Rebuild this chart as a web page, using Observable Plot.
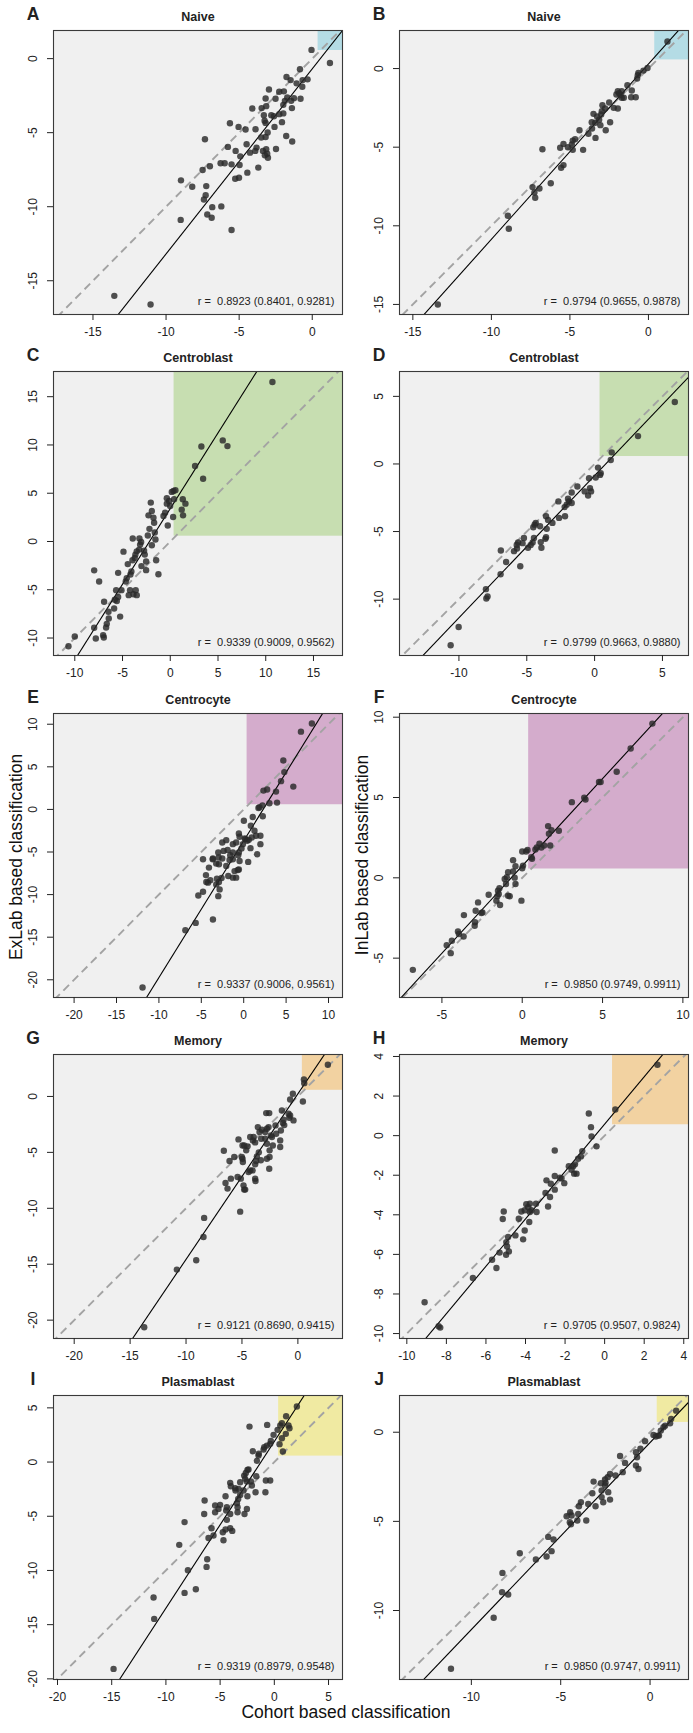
<!DOCTYPE html>
<html><head><meta charset="utf-8">
<script src="https://cdn.jsdelivr.net/npm/d3@7"></script>
<script src="https://cdn.jsdelivr.net/npm/@observablehq/plot@0.6"></script>
<style>
body{margin:0;background:#fff;font-family:"Liberation Sans",Arial,sans-serif;}
#fig{position:relative;width:693px;height:1733px;overflow:hidden;background:#fff;}
.panel{position:absolute;}
.ytitle{position:absolute;font-size:17.5px;white-space:nowrap;transform:translate(-50%,-50%) rotate(-90deg);color:#111;}
.xtitle{position:absolute;font-size:17.5px;white-space:nowrap;transform:translate(-50%,-50%);color:#111;}
</style></head><body><div id="fig"></div><script>
// ---------- data ----------
const panelLetters = ["A","B","C","D","E","F","G","H","I","J"];
const cellTypes = ["Naive","Naive","Centroblast","Centroblast","Centrocyte","Centrocyte","Memory","Memory","Plasmablast","Plasmablast"];
const yAxisTitles = ["ExLab based classification","InLab based classification"];
const xAxisTitle = "Cohort based classification";
const rValues = [0.8923,0.9794,0.9339,0.9799,0.9337,0.9850,0.9121,0.9705,0.9319,0.9850];
const ciLower = [0.8401,0.9655,0.9009,0.9663,0.9006,0.9749,0.8690,0.9507,0.8979,0.9747];
const ciUpper = [0.9281,0.9878,0.9562,0.9880,0.9561,0.9911,0.9415,0.9824,0.9548,0.9911];
const fitSlopes = [1.25,1.115,1.567,1.052,1.606,1.087,1.48,1.197,1.538,1.049];
const fitIntercepts = [-0.69,0.29,3.41,-0.86,-3.68,0.74,0.23,0.58,1.90,-0.58];
const cutoffX = 0.4, cutoffY = 0.55;
const xRanges = [[-17.7,2.07],[-15.85,2.55],[-12.23,18.04],[-14.38,6.92],[-22.43,11.65],[-7.64,10.35],[-21.85,3.99],[-10.37,4.24],[-20.37,6.29],[-14.02,2.15]];
const yRanges = [[-17.28,1.9],[-15.64,2.42],[-11.81,17.61],[-14.17,6.84],[-22.08,11.26],[-7.45,10.23],[-21.64,3.75],[-10.25,4.10],[-20.06,6.14],[-13.87,2.06]];
const tickValues = [[-15,-10,-5,0],[-15,-10,-5,0],[-10,-5,0,5,10,15],[-10,-5,0,5],[-20,-15,-10,-5,0,5,10],[-5,0,5,10],[-20,-15,-10,-5,0],[-10,-8,-6,-4,-2,0,2,4],[-20,-15,-10,-5,0,5],[-10,-5,0]];

const naiveExX = [-0.05,1.21,-0.84,-0.32,-0.66,-1.76,-1.48,-1.07,-0.68,-0.80,-1.25,-1.44,-1.71,-1.94,-2.26,-2.96,-2.51,-1.87,-1.98,-3.19,-4.10,-3.46,-3.15,-1.39,-2.26,-3.31,-2.80,-3.26,-3.19,-2.07,-1.98,-2.62,-3.88,-4.56,-3.49,-3.19,-3.05,-1.78,-1.37,-5.63,-5.04,-7.34,-5.77,-4.49,-3.81,-3.37,-3.15,-4.26,-3.90,-3.24,-3.03,-3.08,-2.48,-3.69,-4.92,-5.24,-4.44,-5.01,-5.52,-4.97,-5.99,-6.27,-7.50,-7.00,-5.27,-8.98,-8.21,-7.25,-7.29,-7.41,-6.22,-6.84,-7.18,-6.88,-9.00,-5.52,-13.54,-11.06,-2.58];
const naiveExY = [0.59,-0.29,-0.72,-1.40,-1.45,-1.24,-1.45,-1.67,-1.90,-2.71,-2.67,-2.85,-2.62,-2.21,-2.24,-2.08,-2.71,-2.85,-3.12,-2.69,-3.37,-3.34,-3.21,-3.34,-3.75,-3.82,-3.82,-4.20,-4.34,-4.29,-3.70,-3.89,-4.77,-4.79,-5.33,-5.29,-4.99,-5.22,-5.60,-4.36,-4.61,-5.44,-5.96,-5.78,-6.01,-6.23,-6.12,-6.35,-6.23,-6.53,-6.69,-6.42,-6.10,-7.36,-6.60,-6.23,-7.70,-8.04,-7.14,-7.18,-7.07,-7.07,-7.52,-7.27,-8.11,-8.22,-8.65,-8.61,-9.22,-9.51,-9.98,-10.03,-10.53,-10.75,-10.89,-11.57,-16.02,-16.60,-4.61];
const naiveInX = [1.21,-0.06,-0.32,-0.64,-0.68,-0.72,-1.34,-1.95,-1.87,-1.78,-1.70,-2.04,-1.70,-1.57,-1.06,-1.10,-0.81,-1.95,-2.21,-2.50,-2.76,-2.93,-2.97,-3.01,-3.50,-3.27,-3.14,-3.39,-3.06,-3.61,-2.44,-2.72,-3.59,-3.82,-4.39,-3.37,-4.16,-4.67,-4.82,-5.41,-4.88,-5.13,-5.62,-4.82,-6.75,-5.41,-5.56,-6.22,-7.38,-7.26,-7.21,-6.94,-8.95,-8.89,-13.41];
const naiveInY = [1.72,0.04,-0.13,-0.28,-0.42,-0.64,-1.06,-1.44,-1.57,-1.69,-1.44,-1.65,-1.86,-1.86,-1.40,-1.82,-1.82,-2.54,-2.50,-2.16,-2.54,-2.33,-2.71,-2.92,-2.88,-3.05,-3.26,-3.45,-3.60,-3.41,-3.41,-3.92,-3.81,-4.15,-3.92,-4.41,-5.17,-4.49,-4.58,-4.79,-4.83,-5.00,-5.04,-5.17,-5.13,-6.14,-6.31,-7.29,-7.54,-7.88,-8.22,-7.63,-9.36,-10.19,-15.0];
const cbExX = [10.70,5.50,5.99,3.26,2.60,3.44,0.34,0.16,0.54,-0.36,-0.12,0.40,1.31,1.59,1.20,1.34,0.30,-0.26,-0.71,-0.54,-0.01,-0.36,-2.04,-1.93,-2.28,-1.76,-1.69,-1.62,-1.55,-2.18,-1.93,-2.35,-3.05,-3.16,-3.26,-2.74,-2.67,-3.51,-3.65,-3.93,-3.23,-3.72,-3.96,-4.45,-2.53,-3.02,-2.53,-1.48,-1.24,-4.07,-4.17,-4.90,-5.46,-7.97,-7.45,-4.56,-4.66,-4.21,-3.62,-3.51,-3.86,-4.35,-5.11,-5.67,-5.46,-5.60,-5.81,-5.25,-5.88,-6.93,-6.47,-6.44,-6.65,-6.72,-7.97,-7.80,-7.03,-6.96,-10.0,-10.66];
const cbExY = [16.53,10.47,9.88,9.84,7.82,6.50,5.24,5.14,5.32,4.48,4.20,4.37,4.37,3.92,3.30,2.71,2.53,1.66,2.64,2.99,3.68,3.92,4.03,3.16,2.71,2.46,1.94,0.93,0.20,1.31,-0.39,0.62,-0.04,-0.32,-0.84,-0.95,-1.36,-1.02,-1.36,0.31,0.31,-1.71,-1.95,-2.34,-2.08,-2.55,-2.97,-1.95,-3.39,-3.11,-3.42,-1.05,-3.25,-2.99,-4.14,-3.80,-4.14,-5.04,-5.04,-5.56,-5.46,-5.56,-5.04,-5.04,-5.75,-6.17,-6.04,-7.78,-6.94,-6.24,-7.28,-7.97,-8.53,-8.91,-8.94,-10.05,-9.70,-9.94,-9.84,-10.85];
const cbInX = [5.91,3.20,1.26,1.19,0.25,0.45,0.40,0.08,-0.41,-0.34,-0.26,-0.73,-0.48,-1.27,-1.69,-1.69,-1.96,-2.21,-2.06,-2.67,-2.18,-1.89,-2.62,-3.11,-3.58,-3.43,-3.53,-3.58,-3.63,-4.02,-3.97,-3.92,-4.34,-4.42,-4.52,-4.47,-4.57,-4.71,-4.91,-5.21,-5.31,-5.48,-5.64,-5.74,-5.94,-5.72,-6.52,-6.91,-6.93,-8.01,-7.98,-7.89,-10.02,-10.61];
const cbInY = [4.58,2.06,0.86,0.29,-0.27,-0.69,-0.81,-1.00,-1.05,-1.79,-2.03,-2.03,-2.33,-1.67,-2.11,-2.89,-2.57,-3.19,-3.01,-2.77,-3.87,-2.77,-3.99,-4.36,-3.87,-4.14,-4.80,-5.42,-5.54,-4.61,-5.78,-6.20,-4.36,-4.49,-4.68,-5.47,-5.81,-6.00,-6.20,-5.47,-5.86,-7.57,-5.81,-6.00,-6.45,-6.25,-7.25,-6.40,-8.16,-9.26,-9.95,-9.80,-12.06,-13.41];
const ccExX = [8.04,6.75,4.67,4.79,4.40,5.85,3.81,2.76,2.33,3.93,3.03,1.86,1.74,2.21,2.25,1.07,0.02,0.84,1.27,1.46,0.95,1.97,1.97,0.80,1.58,0.53,0.21,0.41,0.60,0.13,-0.57,-0.49,-0.10,-0.26,-0.89,-1.28,-0.57,-0.65,-1.28,-1.59,-1.90,-2.37,-3.00,-2.53,-2.06,-3.63,-2.53,-2.96,-1.67,-1.28,-0.49,-0.69,-0.57,-1.08,-0.89,-1.28,-2.06,-1.82,-2.61,-3.24,-2.92,-4.10,-3.66,-4.80,-3.16,-2.92,-2.84,-3.24,-3.00,-3.94,-4.45,-4.21,-4.41,-4.80,-5.35,-3.63,-5.66,-6.88,-11.93];
const ccExY = [10.08,9.13,5.75,4.38,3.32,2.68,2.09,2.33,2.21,0.80,0.72,0.25,0.17,0.48,-0.81,-0.89,-1.33,-1.91,-2.50,-3.09,-3.29,-3.09,-4.08,-4.55,-5.26,-6.16,-3.49,-3.68,-3.57,-3.41,-2.82,-3.21,-4.08,-4.59,-3.88,-4.08,-5.06,-5.37,-5.06,-5.37,-4.75,-4.87,-5.06,-3.88,-3.61,-5.77,-5.77,-5.65,-5.93,-5.85,-6.05,-7.11,-7.04,-7.24,-8.01,-8.01,-6.63,-7.81,-8.05,-6.36,-6.44,-6.83,-5.85,-5.85,-8.13,-8.52,-9.39,-8.80,-10.18,-8.32,-7.71,-8.60,-8.52,-9.67,-10.10,-12.92,-13.32,-14.19,-20.90];
const ccInX = [8.10,6.75,5.88,4.78,4.88,3.86,3.94,3.09,2.28,1.82,1.61,1.66,1.74,1.36,1.19,1.07,0.82,0.91,0.61,0.57,0.33,0.24,0.00,0.05,0.00,-0.57,-0.42,-0.88,-0.96,-1.09,-0.57,-0.47,-0.42,-1.01,-1.42,-1.51,-1.46,-1.55,-0.88,-0.78,-1.38,-1.61,-2.09,-0.05,-2.75,-2.90,-2.54,-2.48,-2.94,-2.96,-3.63,-3.65,-4.00,-3.94,-4.38,-4.70,-4.45,-6.81];
const ccInY = [9.60,8.05,6.60,5.97,5.97,4.99,4.88,4.71,2.93,2.96,3.22,2.74,2.01,2.01,1.89,2.12,1.76,1.89,1.18,1.28,1.74,1.64,1.64,0.76,0.60,1.10,0.72,0.35,0.04,-0.07,0.39,0.01,-0.38,-0.38,-0.65,-0.80,-1.01,-1.15,-1.11,-1.15,-1.69,-1.42,-1.05,-1.42,-1.53,-2.05,-2.19,-2.15,-2.77,-2.98,-2.32,-3.65,-3.34,-3.50,-3.92,-4.19,-4.69,-5.73];
const memExX = [2.68,0.54,0.57,0.45,-0.45,-0.69,-0.39,-0.77,-0.83,-0.69,-1.43,-1.28,-1.34,-1.22,-1.52,-1.58,-1.58,-2.56,-2.83,-2.62,-2.00,-2.32,-2.41,-1.94,-2.77,-2.92,-3.58,-3.22,-3.43,-3.28,-3.96,-4.26,-4.02,-3.82,-2.92,-2.77,-2.24,-2.53,-2.53,-2.56,-2.77,-3.49,-3.67,-3.73,-3.82,-3.31,-3.82,-3.79,-4.26,-4.41,-4.05,-4.50,-4.62,-4.95,-4.80,-5.01,-4.95,-4.92,-5.31,-5.69,-6.11,-6.62,-5.39,-5.99,-5.10,-4.86,-4.71,-4.80,-6.47,-6.29,-5.16,-8.38,-8.44,-9.09,-10.82,-13.74];
const memExY = [2.83,1.52,1.19,-0.45,0.24,-0.27,-2.14,-1.90,-1.55,-1.70,-1.25,-2.08,-2.38,-2.56,-3.04,-3.93,-4.52,-1.49,-1.49,-2.74,-2.59,-3.63,-3.48,-3.33,-2.89,-3.18,-2.74,-2.98,-3.18,-3.78,-3.63,-3.63,-3.93,-4.11,-3.78,-4.23,-4.38,-4.82,-5.42,-6.46,-5.57,-5.00,-5.36,-5.77,-6.07,-5.71,-7.35,-7.56,-6.61,-6.76,-6.61,-4.46,-4.82,-4.38,-4.38,-5.42,-5.57,-5.86,-3.84,-5.42,-5.77,-4.85,-7.20,-7.35,-7.35,-7.95,-8.33,-8.33,-7.74,-8.24,-10.30,-10.86,-12.56,-14.64,-15.48,-20.63];
const memInX = [2.67,0.54,-0.80,-0.69,-0.66,-0.41,-2.52,-1.13,-1.20,-1.34,-1.50,-1.59,-1.81,-1.67,-1.54,-1.42,-2.26,-2.18,-2.52,-2.04,-2.94,-2.72,-2.52,-2.99,-2.76,-2.86,-3.47,-3.78,-3.87,-3.96,-4.04,-3.78,-3.70,-3.44,-4.21,-4.34,-3.81,-4.04,-4.12,-4.51,-5.10,-5.15,-4.88,-4.97,-4.93,-4.84,-4.98,-5.31,-5.69,-5.47,-6.66,-9.10,-8.39,-8.31];
const memInY = [3.58,1.32,1.12,0.43,-0.04,-0.54,-0.75,-0.78,-1.05,-1.17,-1.45,-1.55,-1.55,-1.72,-1.92,-1.92,-2.13,-2.16,-2.04,-2.40,-2.26,-2.43,-2.73,-2.90,-3.10,-3.58,-3.44,-3.44,-3.61,-3.47,-3.77,-3.86,-3.77,-3.86,-3.83,-4.20,-4.36,-4.79,-5.24,-5.04,-3.83,-4.21,-5.12,-5.38,-5.60,-5.85,-6.02,-5.91,-6.27,-6.69,-7.19,-8.42,-9.63,-9.70];
const pbExX = [2.08,1.09,1.31,1.40,0.70,0.55,-2.29,-0.66,1.06,0.70,0.48,0.30,-0.07,-0.32,-0.69,-0.93,-0.38,0.79,-0.99,-1.98,-1.43,-1.46,-1.61,-2.38,-2.63,-2.48,-2.78,-2.69,-2.53,-2.16,-2.07,-1.67,-1.73,-0.78,-0.38,-0.82,-3.15,-2.84,-3.30,-3.61,-3.58,-4.07,-4.01,-3.15,-3.33,-2.48,-4.50,-3.45,-3.39,-3.39,-2.53,-2.75,-4.07,-4.38,-4.44,-5.00,-5.15,-5.46,-5.46,-6.43,-6.47,-4.38,-5.79,-5.61,-6.07,-4.75,-4.50,-4.07,-3.88,-4.69,-8.28,-8.77,-6.19,-6.25,-7.97,-7.24,-8.28,-11.14,-11.08,-14.83];
const pbExY = [5.12,4.23,3.37,3.12,3.58,3.37,3.27,3.43,2.60,2.20,1.65,2.97,2.51,1.95,1.52,1.37,1.68,0.97,1.16,1.00,0.76,0.60,0.11,-0.69,-1.00,-0.72,-1.25,-1.55,-1.80,-1.80,-2.16,-1.31,-2.78,-1.70,-1.70,-2.78,-1.86,-2.62,-2.47,-2.41,-2.62,-1.92,-2.23,-3.03,-3.40,-3.15,-3.15,-3.80,-4.17,-4.63,-4.32,-4.79,-4.79,-4.17,-4.47,-3.95,-4.32,-4.01,-4.63,-3.55,-4.79,-5.33,-6.10,-6.78,-7.00,-6.47,-6.22,-6.10,-6.35,-7.21,-5.54,-7.64,-8.96,-9.67,-9.98,-11.73,-12.07,-12.49,-14.47,-19.08];
const pbInX = [1.46,1.18,1.12,0.84,0.75,0.60,0.50,0.32,0.43,0.19,-0.28,-0.54,-0.79,-0.73,-0.79,-0.65,-1.68,-1.40,-1.53,-1.93,-2.24,-2.37,-2.52,-2.49,-2.52,-3.16,-2.75,-2.71,-2.34,-2.24,-2.62,-2.71,-3.23,-3.05,-3.46,-3.87,-3.98,-4.02,-3.57,-4.07,-4.39,-4.47,-4.67,-4.49,-4.43,-5.70,-5.40,-6.39,-5.79,-5.51,-7.29,-8.26,-8.28,-7.94,-8.75,-11.14];
const pbInY = [1.21,0.75,0.50,0.37,0.28,0.09,-0.19,-0.24,-0.19,-0.15,-0.50,-0.93,-1.12,-1.40,-1.87,-2.06,-1.33,-1.72,-2.24,-2.43,-2.34,-2.52,-2.65,-2.84,-2.99,-2.77,-2.86,-3.27,-3.36,-3.78,-3.93,-3.64,-3.42,-4.15,-4.02,-3.93,-4.15,-4.58,-4.95,-4.95,-4.67,-4.49,-4.71,-5.05,-5.16,-5.87,-6.02,-7.14,-6.97,-6.67,-6.79,-7.89,-8.97,-9.10,-10.41,-13.27];

const pointX = [naiveExX,naiveInX,cbExX,cbInX,ccExX,ccInX,memExX,memInX,pbExX,pbInX];
const pointY = [naiveExY,naiveInY,cbExY,cbInY,ccExY,ccInY,memExY,memInY,pbExY,pbInY];

// ---------- styles ----------
const highlightColors = ["#B4DCE5","#B4DCE5","#C7DEB1","#C7DEB1","#D4ACCC","#D4ACCC","#F2D2A1","#F2D2A1","#F0EAA2","#F0EAA2"];

const fig = document.getElementById("fig");

function makePanel(i) {
  const xd = xRanges[i], yd = yRanges[i];
  const pts = d3.zip(pointX[i], pointY[i]);
  const lo = Math.min(xd[0], yd[0]) - 1, hi = Math.max(xd[1], yd[1]) + 1;
  const b = fitSlopes[i], a = fitIntercepts[i];
  const rText = `r =  ${rValues[i].toFixed(4)} (${ciLower[i].toFixed(4)}, ${ciUpper[i].toFixed(4)})`;
  const svg = Plot.plot({
    width: 346, height: 341,
    marginLeft: 53, marginRight: 4, marginTop: 30, marginBottom: 27,
    x: {domain: xd}, y: {domain: yd},
    style: {fontFamily: "'Liberation Sans', Arial, sans-serif", fontSize: "12px", color: "#222", background: "transparent", overflow: "visible"},
    marks: [
      Plot.frame({fill: "#F0F0F0", stroke: "none"}),
      Plot.rect([0], {x1: () => cutoffX, x2: () => xd[1], y1: () => cutoffY, y2: () => yd[1], fill: highlightColors[i]}),
      Plot.link([0], {x1: () => lo, y1: () => lo, x2: () => hi, y2: () => hi, stroke: "#A3A3A3", strokeWidth: 1.9, strokeDasharray: "8,5", clip: true}),
      Plot.link([0], {x1: () => lo, y1: () => a + b * lo, x2: () => hi, y2: () => a + b * hi, stroke: "#000", strokeWidth: 1.1, clip: true}),
      Plot.dot(pts, {x: d => d[0], y: d => d[1], r: 3.2, fill: "#2a2a2a", fillOpacity: 0.82, stroke: "none"}),
      Plot.frame({stroke: "#3a3a3a", strokeWidth: 1.1}),
      Plot.axisX({ticks: tickValues[i], tickSize: 6, tickPadding: 7, tickFormat: d => String(d), label: null}),
      Plot.axisY({ticks: tickValues[i], tickSize: 6, tickFormat: () => "", label: null}),
      Plot.text(tickValues[i], {y: d => d, text: d => String(d), frameAnchor: "left", dx: -20, rotate: -90, textAnchor: "middle", lineAnchor: "middle"}),
      Plot.text([cellTypes[i]], {text: d => d, frameAnchor: "top", dy: -14, lineAnchor: "middle", fontWeight: "bold", fontSize: 12.5}),
      Plot.text([panelLetters[i]], {text: d => d, frameAnchor: "top-left", dx: -20.5, dy: -16, lineAnchor: "middle", textAnchor: "middle", fontWeight: "bold", fontSize: 17.5}),
      Plot.text([rText], {text: d => d, frameAnchor: "bottom-right", dx: -8, dy: -13, lineAnchor: "middle", textAnchor: "end", fontSize: 11, ariaLabel: "rlabel"})
    ]
  });
  d3.select(svg).selectAll('g[aria-label="rlabel"] text').each(function() {
    const s = this.textContent;
    this.textContent = "";
    this.setAttribute("style", "white-space:pre");
    d3.select(this).append("tspan").attr("font-style", "italic").text("r");
    d3.select(this).append("tspan").text(s.slice(1));
  });
  const div = document.createElement("div");
  div.className = "panel";
  div.style.left = (i % 2) * 346 + "px";
  div.style.top = Math.round(Math.floor(i / 2) * 341.25) + "px";
  div.appendChild(svg);
  fig.appendChild(div);
}
for (let i = 0; i < 10; i++) makePanel(i);

const t1 = document.createElement("div"); t1.className = "ytitle"; t1.textContent = yAxisTitles[0];
t1.style.left = "16px"; t1.style.top = "857px"; fig.appendChild(t1);
const t2 = document.createElement("div"); t2.className = "ytitle"; t2.textContent = yAxisTitles[1];
t2.style.left = "362px"; t2.style.top = "855px"; fig.appendChild(t2);
const t3 = document.createElement("div"); t3.className = "xtitle"; t3.textContent = xAxisTitle;
t3.style.left = "346px"; t3.style.top = "1712px"; fig.appendChild(t3);
</script></body></html>
